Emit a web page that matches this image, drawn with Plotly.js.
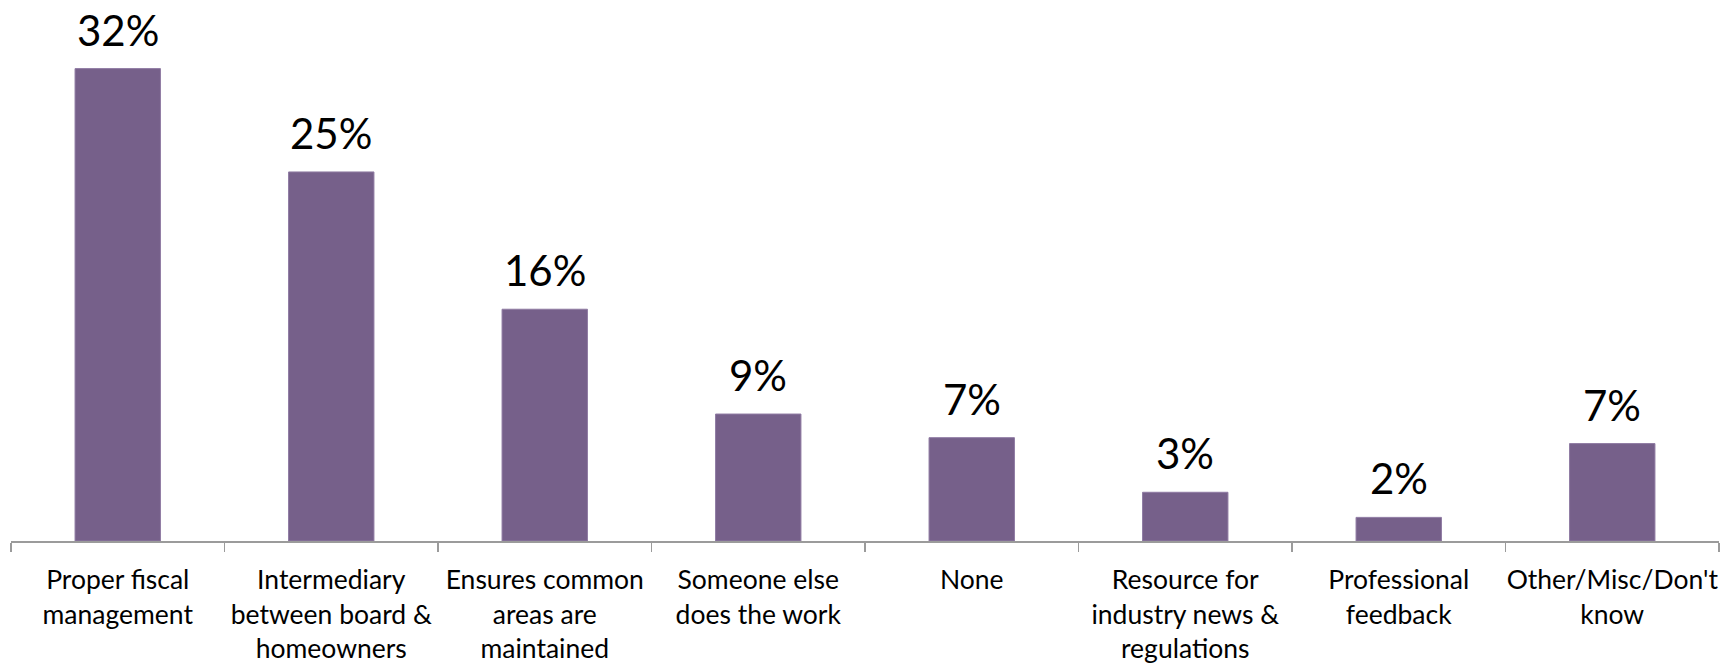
<!DOCTYPE html>
<html>
<head>
<meta charset="utf-8">
<script src="https://cdn.plot.ly/plotly-3.0.1.min.js"></script>
<style>html,body{margin:0;padding:0;background:#fff;}#chart{width:1734px;height:665px;}</style>
</head>
<body>
<div id="chart"></div>
<script>
const categories = [
  "Proper fiscal management",
  "Intermediary between board & homeowners",
  "Ensures common areas are maintained",
  "Someone else does the work",
  "None",
  "Resource for industry news & regulations",
  "Professional feedback",
  "Other/Misc/Don't know"
];
const tickLabels = [
  "Proper fiscal<br>management",
  "Intermediary<br>between board &<br>homeowners",
  "Ensures common<br>areas are<br>maintained",
  "Someone else<br>does the work",
  "None",
  "Resource for<br>industry news &<br>regulations",
  "Professional<br>feedback",
  "Other/Misc/Don't<br>know"
];
const values = [32.0, 25.0, 15.7, 8.6, 7.0, 3.3, 1.6, 6.6];
const valueLabels = ["32%", "25%", "16%", "9%", "7%", "3%", "2%", "7%"];

const trace = {
  type: "bar",
  x: categories,
  y: values,
  marker: {color: "#76608a", line: {color: "#8f7ba3", width: 1}},
  hoverinfo: "none",
  width: 0.4
};

const annotations = categories.map((c, i) => ({
  x: c, y: values[i], xref: "x", yref: "y",
  text: valueLabels[i], showarrow: false,
  yanchor: "bottom", yshift: 12,
  font: {family: "Lato, 'Open Sans', sans-serif", size: 42, color: "#000"}
}));

const layout = {
  width: 1734, height: 665,
  margin: {l: 11, r: 15, t: 10, b: 124, pad: 0},
  paper_bgcolor: "#fff", plot_bgcolor: "#fff",
  showlegend: false,
  annotations: annotations,
  xaxis: {
    type: "category",
    tickmode: "array", tickvals: categories, ticktext: tickLabels,
    tickson: "boundaries",
    tickangle: 0,
    ticks: "outside", ticklen: 9, tickwidth: 1.5, tickcolor: "#9b9b9b",
    showline: true, linecolor: "#9b9b9b", linewidth: 1.5,
    showgrid: false, zeroline: false,
    ticklabelstandoff: 15,
    tickfont: {family: "Lato, 'Open Sans', sans-serif", size: 26.5, color: "#000"},
    fixedrange: true
  },
  yaxis: {
    range: [0, 35.97],
    showline: false, showgrid: false, zeroline: false,
    showticklabels: false, ticks: "",
    fixedrange: true
  }
};

Plotly.newPlot("chart", [trace], layout, {displayModeBar: false, staticPlot: true});
</script>
</body>
</html>
